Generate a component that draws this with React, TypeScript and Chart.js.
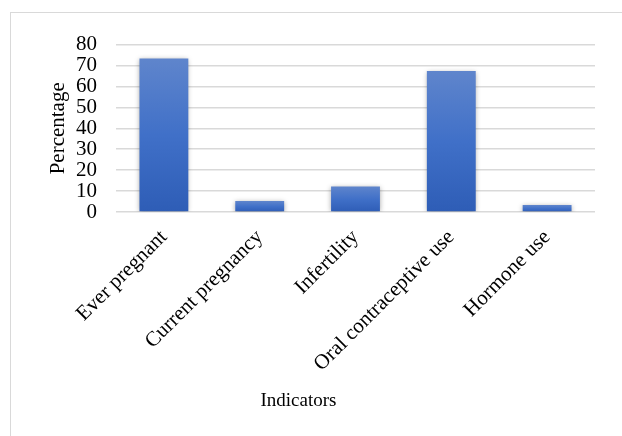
import React, { useEffect, useRef } from "react";
import { Chart, registerables } from "chart.js";

Chart.register(...registerables);

const categories = ["Ever pregnant", "Current pregnancy", "Infertility", "Oral contraceptive use", "Hormone use"];
const percentages = [73.4, 5.2, 12.2, 67.4, 3.3];
const yTicks = [0, 10, 20, 30, 40, 50, 60, 70, 80];
const yTitle = "Percentage";
const xTitle = "Indicators";

const FONT = "'Liberation Serif', 'Times New Roman', serif";

export default function App() {
  const ref = useRef<HTMLCanvasElement | null>(null);

  useEffect(() => {
    if (!ref.current) return;

    const shadowPlugin = {
      id: "barShadow",
      beforeDatasetsDraw(chart: any) {
        const ctx = chart.ctx;
        ctx.save();
        ctx.shadowColor = "rgba(0,0,0,0.35)";
        ctx.shadowBlur = 5;
        ctx.shadowOffsetX = 0;
        ctx.shadowOffsetY = 1;
      },
      afterDatasetsDraw(chart: any) {
        chart.ctx.restore();
      },
    };

    const xTitlePlugin = {
      id: "xTitle",
      afterDraw(chart: any) {
        const ctx = chart.ctx;
        const a = chart.chartArea;
        ctx.save();
        ctx.font = `19px ${FONT}`;
        ctx.fillStyle = "#000";
        ctx.textAlign = "center";
        ctx.textBaseline = "middle";
        ctx.fillText(xTitle, a.left + (a.right - a.left) * 0.381, a.bottom + 189);
        ctx.restore();
      },
    };

    const chart = new Chart(ref.current, {
      type: "bar",
      data: {
        labels: categories,
        datasets: [
          {
            data: percentages,
            backgroundColor: (c: any) => {
              const ch = c.chart;
              if (!ch.chartArea || !ch.scales || !ch.scales.y || c.parsed == null) return "#3f6fc4";
              const ys = ch.scales.y;
              const top = ys.getPixelForValue(c.parsed.y);
              const base = ys.getPixelForValue(0);
              if (!isFinite(top) || !isFinite(base) || base - top < 1) return "#3f6fc4";
              const g = ch.ctx.createLinearGradient(0, top, 0, base);
              g.addColorStop(0, "#5f85cc");
              g.addColorStop(0.5, "#4070c8");
              g.addColorStop(1, "#2e5db6");
              return g;
            },
            borderWidth: 0,
            categoryPercentage: 1,
            barPercentage: 0.51,
          },
        ],
      },
      options: {
        animation: false,
        responsive: false,
        maintainAspectRatio: false,
        layout: { padding: { top: 28, right: 27, left: 0, bottom: 0 } },
        plugins: {
          legend: { display: false },
          tooltip: { enabled: false },
        },
        scales: {
          x: {
            grid: { display: false, drawTicks: false },
            border: { display: false },
            ticks: {
              minRotation: 45,
              maxRotation: 45,
              autoSkip: false,
              padding: 13,
              color: "#000",
              font: { family: FONT, size: 21 },
            },
            afterFit(scale: any) {
              scale.height = 224;
            },
          },
          y: {
            min: 0,
            max: yTicks[yTicks.length - 1],
            afterBuildTicks(scale: any) {
              scale.ticks = yTicks.map((v) => ({ value: v }));
            },
            grid: { color: "#d9d9d9", lineWidth: 1.5, drawTicks: false },
            border: { display: false },
            ticks: {
              autoSkip: false,
              padding: 19,
              color: "#000",
              font: { family: FONT, size: 21 },
            },
            title: {
              display: true,
              text: yTitle,
              color: "#000",
              font: { family: FONT, size: 21 },
              padding: { top: 35, bottom: 0 },
            },
            afterFit(scale: any) {
              scale.width = 105;
            },
          },
        },
      },
      plugins: [shadowPlugin, xTitlePlugin],
    });

    return () => chart.destroy();
  }, []);

  return (
    <div
      style={{
        position: "fixed",
        left: 10,
        top: 12,
        width: 611,
        height: 423,
        borderLeft: "1px solid #d9d9d9",
        borderTop: "1px solid #d9d9d9",
        background: "#fff",
      }}
    >
      <canvas ref={ref} width={611} height={423} style={{ display: "block", width: 611, height: 423 }} />
    </div>
  );
}
